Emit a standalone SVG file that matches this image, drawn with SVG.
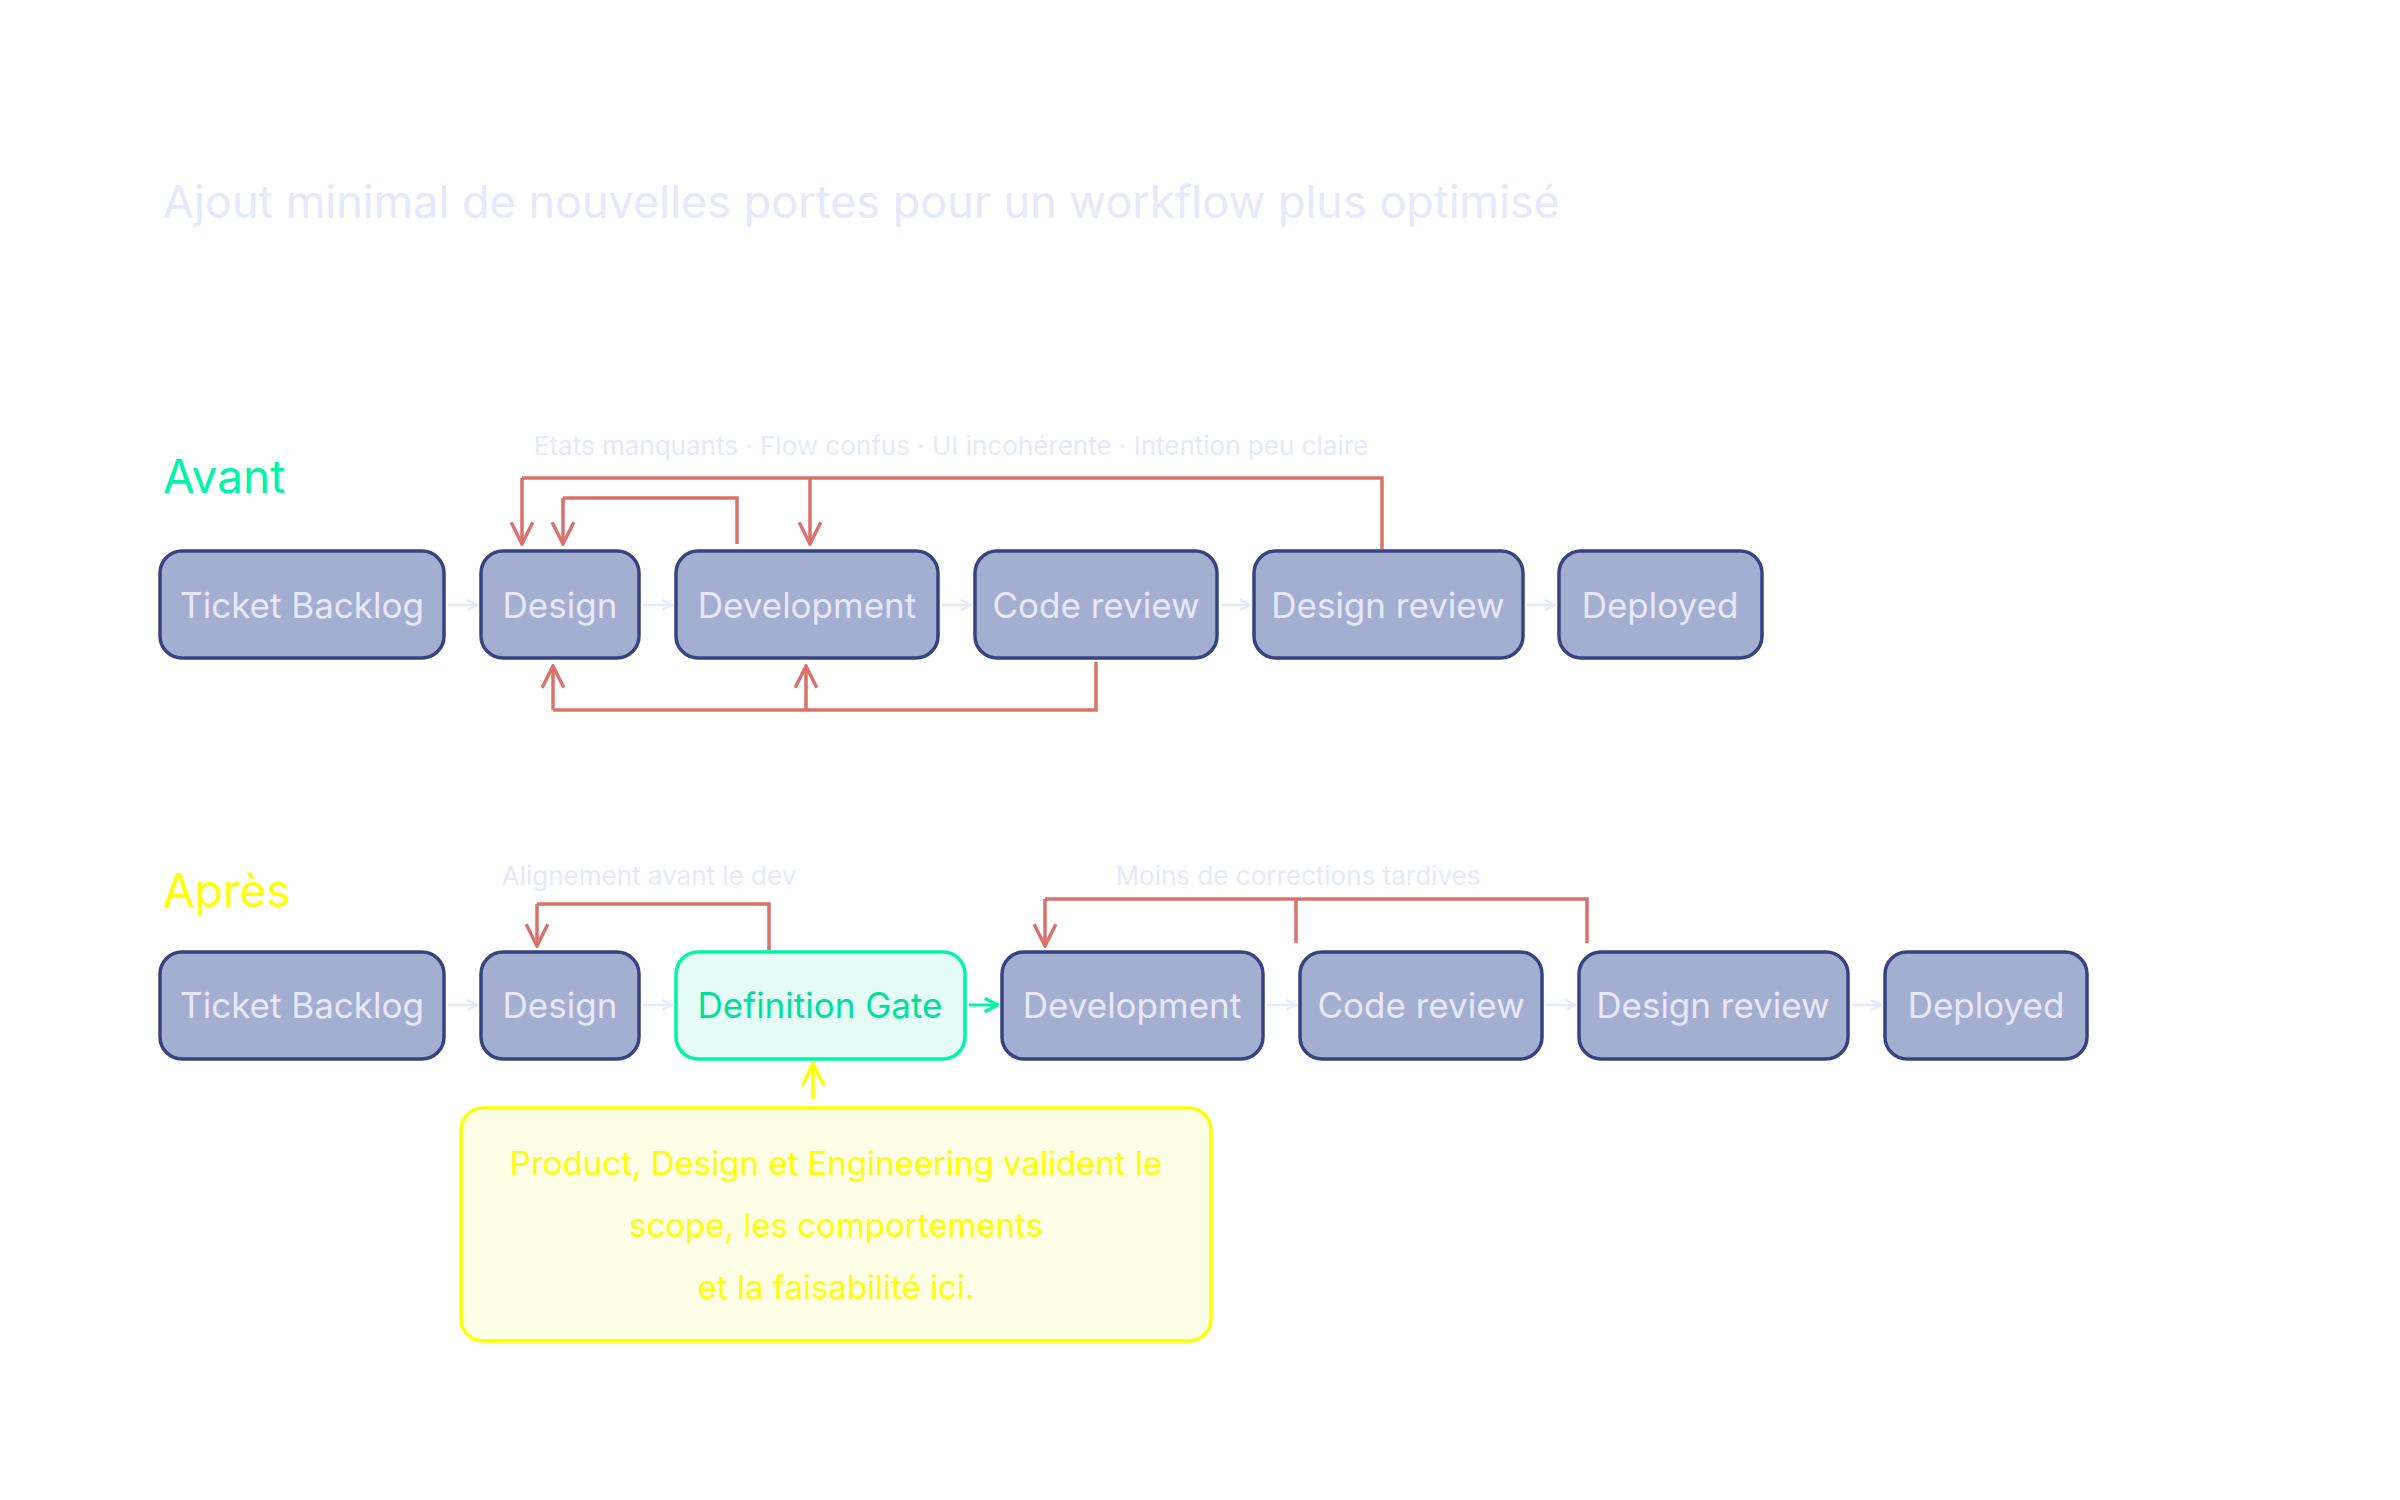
<svg xmlns="http://www.w3.org/2000/svg" width="2400" height="1500" viewBox="0 0 2400 1500">
<defs>
<marker id="ar" viewBox="0 0 12 12" refX="11" refY="6" markerWidth="12" markerHeight="12" markerUnits="userSpaceOnUse" orient="auto"><path d="M1,1 L11,6 L1,11" fill="none" stroke="#e6e9fb" stroke-width="2.5"/></marker>
<marker id="ag" viewBox="0 0 12 12" refX="11" refY="6" markerWidth="16" markerHeight="16" markerUnits="userSpaceOnUse" orient="auto"><path d="M1,1 L11,6 L1,11" fill="none" stroke="#00f5a8" stroke-width="2.5"/></marker>
<marker id="rr" viewBox="0 0 12 12" refX="11" refY="6" markerWidth="26" markerHeight="26" markerUnits="userSpaceOnUse" orient="auto"><path d="M1,1 L11,6 L1,11" fill="none" stroke="#d9726a" stroke-width="1.6"/></marker>
<marker id="ry" viewBox="0 0 12 12" refX="11" refY="6" markerWidth="26" markerHeight="26" markerUnits="userSpaceOnUse" orient="auto"><path d="M1,1 L11,6 L1,11" fill="none" stroke="#ffff00" stroke-width="1.6"/></marker>
</defs>
<style>
text{font-family:Inter,"Noto Sans","Liberation Sans",sans-serif}
.n rect{fill:#a4aed0;stroke:#36437f;stroke-width:3.5}
.n text{fill:#e6e9fb;font-size:35px;text-anchor:middle;dominant-baseline:central}
.sub{fill:#e6e9fb;font-size:26px;text-anchor:middle}
.fl{stroke:#e6e9fb;stroke-width:2.5;fill:none;marker-end:url(#ar)}
.rd{stroke:#d9726a;stroke-width:3.5;fill:none}
.rda{stroke:#d9726a;stroke-width:3.5;fill:none;marker-end:url(#rr)}
</style>
<rect width="2400" height="1500" fill="#ffffff"/>
<text x="163" y="218" fill="#e6e9fb" font-size="45">Ajout minimal de nouvelles portes pour un workflow plus optimisé</text>
<text x="163" y="493" fill="#00f5a8" font-size="46">Avant</text>
<text x="163" y="907" fill="#ffff00" font-size="46">Après</text>
<text class="sub" x="951" y="455">Etats manquants · Flow confus · UI incohérente · Intention peu claire</text>
<text class="sub" x="649" y="885">Alignement avant le dev</text>
<text class="sub" x="1298" y="885">Moins de corrections tardives</text>

<g id="connectors">
<path class="fl" d="M448,605 H477"/><path class="fl" d="M643,605 H672"/><path class="fl" d="M942,605 H971"/><path class="fl" d="M1221,605 H1250"/><path class="fl" d="M1527,605 H1555"/>
<path class="rd" d="M1382,549 V478 H522"/><path class="rda" d="M522,478 V544"/>
<path class="rda" d="M810,478 V544"/>
<path class="rd" d="M737,544 V498 H563"/><path class="rda" d="M563,498 V544"/>
<path class="rd" d="M1096,662 V710 H553"/><path class="rda" d="M553,710 V666"/><path class="rda" d="M806,710 V666"/>
<path class="fl" d="M448,1005 H477"/><path class="fl" d="M643,1005 H672"/>
<path d="M969,1005 H998" stroke="#00f5a8" stroke-width="3" fill="none" marker-end="url(#ag)"/>
<path class="fl" d="M1267,1005 H1296"/><path class="fl" d="M1546,1005 H1575"/><path class="fl" d="M1852,1005 H1881"/>
<path class="rd" d="M769,950 V904 H537"/><path class="rda" d="M537,904 V946"/>
<path class="rd" d="M1587,943 V899 H1045"/><path class="rda" d="M1045,899 V946"/><path class="rd" d="M1296,899 V943"/>
<path d="M813,1099 V1064" stroke="#ffff00" stroke-width="3.5" fill="none" marker-end="url(#ry)"/>
</g>

<g id="a1" class="n"><rect x="160" y="551" width="284" height="107" rx="22"/><text x="302" y="605">Ticket Backlog</text></g>
<g id="a2" class="n"><rect x="481" y="551" width="158" height="107" rx="22"/><text x="560" y="605">Design</text></g>
<g id="a3" class="n"><rect x="676" y="551" width="262" height="107" rx="22"/><text x="807" y="605">Development</text></g>
<g id="a4" class="n"><rect x="975" y="551" width="242" height="107" rx="22"/><text x="1096" y="605">Code review</text></g>
<g id="a5" class="n"><rect x="1254" y="551" width="269" height="107" rx="22"/><text x="1388" y="605">Design review</text></g>
<g id="a6" class="n"><rect x="1559" y="551" width="203" height="107" rx="22"/><text x="1660" y="605">Deployed</text></g>

<g id="b1" class="n"><rect x="160" y="952" width="284" height="107" rx="22"/><text x="302" y="1005">Ticket Backlog</text></g>
<g id="b2" class="n"><rect x="481" y="952" width="158" height="107" rx="22"/><text x="560" y="1005">Design</text></g>
<g id="b3" class="n"><rect x="676" y="952" width="289" height="107" rx="22" style="fill:#e5fcf6;stroke:#00f5a8"/><text x="820" y="1005" style="fill:#00e09a">Definition Gate</text></g>
<g id="b4" class="n"><rect x="1002" y="952" width="261" height="107" rx="22"/><text x="1132" y="1005">Development</text></g>
<g id="b5" class="n"><rect x="1300" y="952" width="242" height="107" rx="22"/><text x="1421" y="1005">Code review</text></g>
<g id="b6" class="n"><rect x="1579" y="952" width="269" height="107" rx="22"/><text x="1713" y="1005">Design review</text></g>
<g id="b7" class="n"><rect x="1885" y="952" width="202" height="107" rx="22"/><text x="1986" y="1005">Deployed</text></g>

<g id="note">
<rect x="461" y="1108" width="750" height="233" rx="22" fill="#fefee6" stroke="#ffff00" stroke-width="3.5"/>
<text x="836" y="1175" fill="#ffff00" font-size="33" text-anchor="middle">Product, Design et Engineering valident le</text>
<text x="836" y="1237" fill="#ffff00" font-size="33" text-anchor="middle">scope, les comportements</text>
<text x="836" y="1299" fill="#ffff00" font-size="33" text-anchor="middle">et la faisabilité ici.</text>
</g>
</svg>
